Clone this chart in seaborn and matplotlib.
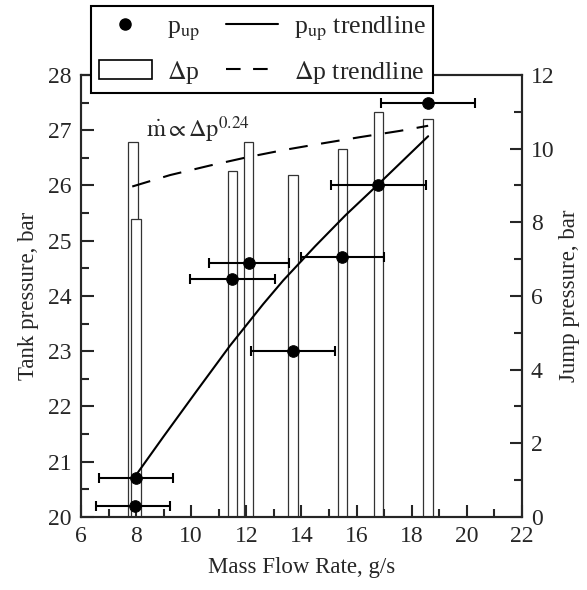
import numpy as np
import pandas as pd
import seaborn as sns
import matplotlib.pyplot as plt
from matplotlib.patches import Rectangle
from matplotlib.lines import Line2D
from matplotlib.ticker import MultipleLocator

# --- dati ---
mdot = [7.96, 8.0, 11.49, 12.10, 13.68, 15.48, 16.79, 18.60]
p_up = [20.2, 20.7, 24.3, 24.6, 23.0, 24.7, 26.0, 27.5]
mdot_lo = [6.54, 6.64, 9.95, 10.63, 12.17, 14.0, 15.07, 16.89]
mdot_hi = [9.23, 9.35, 13.03, 13.55, 15.23, 17.0, 18.51, 20.30]

bar_x = [7.89, 7.99, 11.49, 12.09, 13.69, 15.50, 16.80, 18.59]
dp = [10.19, 8.09, 9.38, 10.19, 9.29, 9.98, 10.98, 10.79]

trend_up_x = [7.96, 8.99, 10.20, 11.41, 12.61, 13.34, 14.50, 15.60, 16.79, 18.60]
trend_up_y = [20.73, 21.45, 22.28, 23.10, 23.85, 24.28, 24.90, 25.46, 26.02, 26.89]

trend_dp_x = [7.86, 9.23, 10.68, 12.0, 13.35, 14.67, 16.12, 17.57, 18.6]
trend_dp_y = [8.97, 9.28, 9.54, 9.76, 9.96, 10.13, 10.31, 10.48, 10.62]

df = pd.DataFrame({'mdot': mdot, 'p_up': p_up})
xerr = [np.array(mdot) - np.array(mdot_lo), np.array(mdot_hi) - np.array(mdot)]

# --- stile ---
sns.set_style("ticks")
plt.rcParams['font.family'] = ['Liberation Serif', 'DejaVu Serif']
plt.rcParams['mathtext.fontset'] = 'stix'
plt.rcParams['axes.linewidth'] = 1.5

fig = plt.figure(figsize=(5.87, 5.90), dpi=100)
ax = fig.add_axes([0.138, 0.124, 0.751, 0.749])
ax2 = ax.twinx()
ax.set_zorder(ax2.get_zorder() + 1)
ax.patch.set_visible(False)

# barre Delta p (asse destro)
ax2.bar(bar_x, dp, width=0.34, facecolor='white', edgecolor='#333333', linewidth=0.9, zorder=1)
sns.lineplot(x=trend_dp_x, y=trend_dp_y, ax=ax2, color='black', linewidth=1.5,
             linestyle=(0, (9, 6.5)), sort=False, zorder=3)

# p_up con barre d'errore (asse sinistro)
ax.errorbar(mdot, p_up, xerr=xerr, fmt='none', ecolor='black', elinewidth=1.5,
            capsize=3.6, capthick=1.5, zorder=3)
sns.scatterplot(data=df, x='mdot', y='p_up', ax=ax, color='black', s=70,
                edgecolor='black', zorder=4, legend=False)
sns.lineplot(x=trend_up_x, y=trend_up_y, ax=ax, color='black', linewidth=1.5,
             sort=False, zorder=3)

ax.set_xlim(6, 22)
ax.set_ylim(20, 28)
ax2.set_ylim(0, 12)
ax.xaxis.set_major_locator(MultipleLocator(2))
ax.xaxis.set_minor_locator(MultipleLocator(1))
ax.yaxis.set_major_locator(MultipleLocator(1))
ax.yaxis.set_minor_locator(MultipleLocator(0.5))
ax2.yaxis.set_major_locator(MultipleLocator(2))
ax2.yaxis.set_minor_locator(MultipleLocator(1))

for a in (ax, ax2):
    a.tick_params(which='major', direction='in', length=9, width=1.5, labelsize=17, pad=6.5)
    a.tick_params(which='minor', direction='in', length=6, width=1.5)
    for s in a.spines.values():
        s.set_visible(True)
        s.set_linewidth(1.5)
ax.tick_params(which='both', top=False, right=False)
ax2.tick_params(which='both', top=False, left=False)

ax.set_xlabel('Mass Flow Rate, g/s', fontsize=16.5, labelpad=7)
ax.set_ylabel('Tank pressure, bar', fontsize=16.5, labelpad=7)
ax2.set_ylabel('Jump pressure, bar', fontsize=16.5, labelpad=3)

ax.text(8.36, 27.0, r'$\mathrm{\dot{m}}\propto\Delta\mathrm{p}^{0.24}$', fontsize=17.5,
        va='center', ha='left')

# legenda
handles = [
    Line2D([], [], marker='o', color='black', linestyle='none', markersize=8),
    Rectangle((0, 0), 1, 1, facecolor='white', edgecolor='black', linewidth=1.2),
    Line2D([], [], color='black', linewidth=1.5),
    Line2D([], [], color='black', linewidth=1.5, linestyle=(0, (7, 6))),
]
labels = [r'p$_{\rm up}$', r'$\Delta$p', r'p$_{\rm up}$ trendline', r'$\Delta$p trendline']
leg = fig.legend(handles, labels, ncol=2, loc='lower left', bbox_to_anchor=(0.155, 0.842),
                 fontsize=18.5, frameon=True, fancybox=False, framealpha=1, edgecolor='black',
                 handlelength=2.06, handleheight=0.8, handletextpad=0.6, columnspacing=1.0,
                 labelspacing=0.62, borderpad=0.3, borderaxespad=0)
leg.get_frame().set_linewidth(1.5)
leg.set_zorder(10)

plt.savefig('out.png', dpi=100)
